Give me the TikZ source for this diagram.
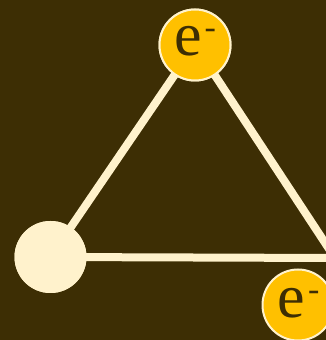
\documentclass[tikz,border=0pt]{standalone}
\usepackage{fontspec}
\setmainfont{Liberation Serif}
\definecolor{bg}{HTML}{3D2E04}
\definecolor{cream}{HTML}{FFF2CC}
\definecolor{gold}{HTML}{FFC000}
\tikzset{
  edge/.style={draw=cream, line width=8pt},
  electron/.style={circle, fill=gold, draw=cream, line width=2pt, minimum size=71pt, inner sep=0pt},
  nucleus/.style={circle, fill=cream, minimum size=72pt, inner sep=0pt},
  elabel/.style={text=bg, anchor=base, inner sep=0pt, font=\fontsize{62pt}{62pt}\selectfont}
}
\newcommand{\elec}{e\hspace{3pt}\raisebox{17pt}{\fontsize{34pt}{34pt}\selectfont -}}
\begin{document}
\begin{tikzpicture}[x=1pt,y=1pt]
\fill[bg] (0,0) rectangle (326,340);
\useasboundingbox (0,0) rectangle (326,340);
\clip (0,0) rectangle (326,340);
\coordinate (right) at (335,82);
\node[nucleus] (left) at (50.5,83) {};
\node[electron] (top) at (195,295) {};
\node[electron] (bot) at (298,35) {};
\draw[edge, line cap=round] (left.center) -- (top.center) -- (right) -- (left.center);
\node[nucleus] at (left) {};
\node[electron] at (top) {};
\node[elabel] (toplabel) at (195,284) {\elec};
\node[elabel] (botlabel) at (298.5,22) {\elec};
\end{tikzpicture}
\end{document}
